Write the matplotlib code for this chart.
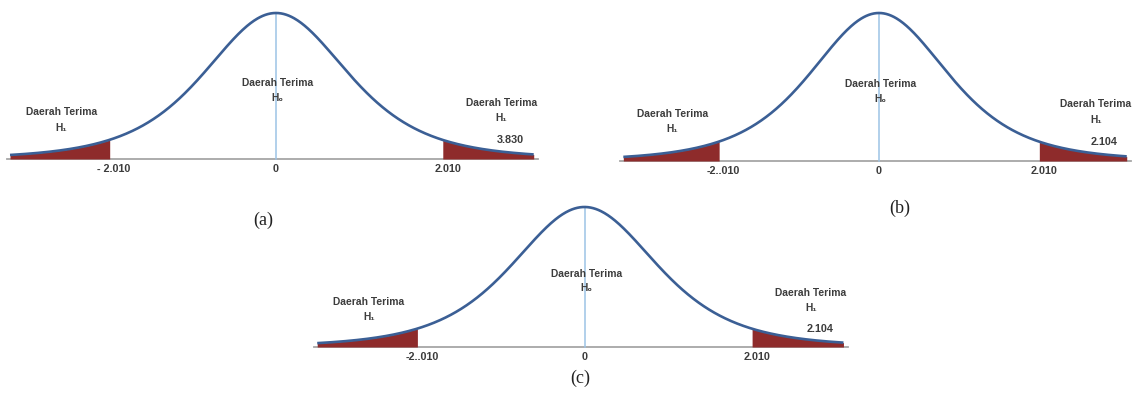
import numpy as np
from matplotlib import pyplot as plt

plt.rcParams['font.family'] = ['Liberation Sans', 'DejaVu Sans']

# Chart data
panel_names = ['(a)', '(b)', '(c)']
crit_value = 2.010
left_tick_labels = ['- 2.010', '-2..010', '-2..010']
right_tick_labels = ['2.010', '2.010', '2.010']
t_values = ['3.830', '2.104', '2.104']
region_label = 'Daerah Terima'
h0_label = 'H\u2080'
h1_label = 'H\u2081'

# shape of the drawn bell curve (t-like, heavy tails, peak scaled to 1)
curve_df = 4
curve_scale = 0.9
x_start, x_end = -3.22, 3.12

# panel placement in pixels: zero position, px per unit, baseline, peak height
panel_px = [
    (276, 82.6, 159, 146),
    (879, 79.4, 161, 148),
    (584.5, 83.0, 347, 140),
]
letter_px = [(263, 220), (900, 208), (580, 378)]

W, H = 1136, 394
XLIM = (-3.3, 3.3)
YLIM = (-0.2, 1.05)

curve_col = '#3b5f95'
fill_col = '#8e2b2b'
zero_col = '#9dc3e6'
axis_col = '#a6a6a6'
text_col = '#3c3c3c'

fig = plt.figure(figsize=(W / 100, H / 100), dpi=100)
fig.patch.set_facecolor('white')

xs = np.linspace(x_start, x_end, 600)
ys = (1 + xs ** 2 / (curve_df * curve_scale ** 2)) ** (-(curve_df + 1) / 2)

for i in range(3):
    zero_px, scale, base_px, h_px = panel_px[i]
    left = zero_px + XLIM[0] * scale
    width = (XLIM[1] - XLIM[0]) * scale
    bottom_px = base_px - YLIM[0] * h_px
    top_px = base_px - YLIM[1] * h_px
    ax = fig.add_axes([left / W, 1 - bottom_px / H, width / W, (bottom_px - top_px) / H])
    ax.set_xlim(*XLIM)
    ax.set_ylim(*YLIM)
    ax.axis('off')

    # baseline
    ax.plot([x_start - 0.04, x_end + 0.05], [0, 0], color=axis_col, lw=1.3, zorder=1)
    # rejection tails
    lm = xs <= -crit_value
    rm = xs >= crit_value
    ax.fill_between(xs[lm], 0, ys[lm], color=fill_col, lw=0, zorder=2)
    ax.fill_between(xs[rm], 0, ys[rm], color=fill_col, lw=0, zorder=2)
    # center line
    ax.plot([0, 0], [0, 1], color=zero_col, lw=1.1, zorder=2)
    # curve
    ax.plot(xs, ys, color=curve_col, lw=1.9, zorder=3, solid_capstyle='butt')

    tk = dict(fontsize=7.8, fontweight='bold', color=text_col, ha='center', va='center')
    ax.text(-1.96, -0.068, left_tick_labels[i], **tk)
    ax.text(0, -0.068, '0', **tk)
    ax.text(2.08, -0.068, right_tick_labels[i], **tk)

    lb = dict(fontsize=7.4, fontweight='bold', color=text_col, ha='center', va='center')
    ax.text(-2.6, 0.32, region_label, **lb)
    ax.text(-2.6, 0.215, h1_label, **lb)
    ax.text(0.02, 0.52, region_label, **lb)
    ax.text(0.02, 0.42, h0_label, **lb)
    ax.text(2.73, 0.385, region_label, **lb)
    ax.text(2.73, 0.28, h1_label, **lb)
    ax.text(2.84, 0.128, t_values[i], **tk)

    lx, ly = letter_px[i]
    fig.text(lx / W, 1 - ly / H, panel_names[i], family='Liberation Serif',
             fontsize=13, color='#222222', ha='center', va='center')

fig.savefig('out.png', dpi=100, facecolor='white')
